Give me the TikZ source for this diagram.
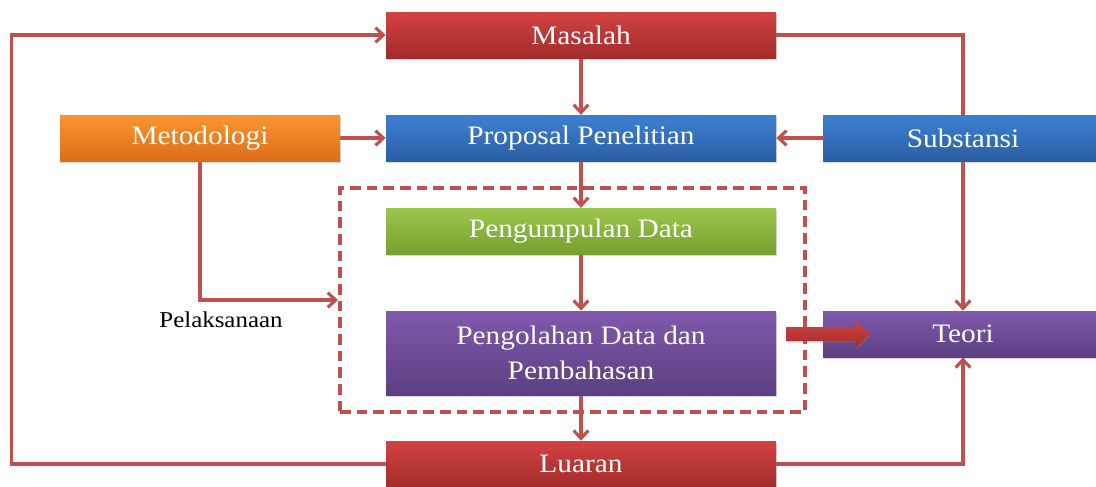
\documentclass[tikz,border=0pt]{standalone}
\usepackage{fontspec}
\setmainfont{Liberation Serif}[FakeStretch=1.1]
\usetikzlibrary{arrows.meta,shadows}
\pgfdeclarelayer{background}
\pgfsetlayers{background,main}

\definecolor{lnred}{HTML}{C0504D}
\definecolor{redtop}{HTML}{D24343}
\definecolor{redbot}{HTML}{A22B2B}
\definecolor{bluetop}{HTML}{3C80D2}
\definecolor{bluebot}{HTML}{2C5EA3}
\definecolor{orgtop}{HTML}{F9952F}
\definecolor{orgbot}{HTML}{DC6E1A}
\definecolor{grntop}{HTML}{9DC64C}
\definecolor{grnbot}{HTML}{759E2F}
\definecolor{purtop}{HTML}{8059AC}
\definecolor{purbot}{HTML}{5D3F82}

\tikzset{
  box/.style={rectangle, inner sep=0pt, text=white, align=center,
    font=\fontsize{20}{26}\selectfont,
    minimum width=292.5pt, minimum height=34.5pt,
    drop shadow={shadow xshift=1pt, shadow yshift=-1.2pt, opacity=0.3}},
  redbox/.style={box, top color=redtop, bottom color=redbot},
  bluebox/.style={box, top color=bluetop, bottom color=bluebot},
  orgbox/.style={box, top color=orgtop, bottom color=orgbot},
  grnbox/.style={box, top color=grntop, bottom color=grnbot},
  purbox/.style={box, top color=purtop, bottom color=purbot},
  conn/.style={draw=lnred, line width=2.3pt,
    -{Straight Barb[length=6pt,width=11pt,line width=2.3pt]}},
  dbox/.style={rectangle, draw=lnred, line width=3pt,
    dash pattern=on 8pt off 4.5pt,
    minimum width=348.75pt, minimum height=168pt, inner sep=0pt}
}

\begin{document}
\begin{tikzpicture}[x=0.75pt,y=-0.75pt]
\useasboundingbox (0,0) rectangle (1096,486);
\clip (0,0) rectangle (1096,486);

% main column
\node[redbox]  (masalah)     at (581,35)    {Masalah};
\node[bluebox, minimum height=35pt] (proposal) at (581,138.5) {Proposal Penelitian};
\node[grnbox, minimum height=35pt] (pengumpulan) at (581,231.5) {Pengumpulan Data};
\node[purbox, minimum height=63pt] (pengolahan) at (581,353)
  {Pengolahan Data dan\\Pembahasan};
\node[redbox]  (luaran)      at (581,464)   {Luaran};

% side boxes
\node[orgbox, minimum width=210pt]  (metodologi) at (200,138) {Metodologi};
\node[bluebox, minimum width=210pt] (substansi)  at (963,138) {Substansi};
\node[purbox, minimum width=210pt]  (teori)      at (963,334) {Teori};

% implementation frame
\node[dbox] (frame) at (572.5,300) {};
\node[font=\fontsize{17}{20}\selectfont, text=black] (pelaksanaan) at (221,320) {Pelaksanaan};

% connectors
\begin{pgfonlayer}{background}
\draw[conn] (masalah) -- (proposal);
\draw[conn] (proposal) -- (pengumpulan);
\draw[conn] (pengumpulan) -- (pengolahan);
\draw[conn] (pengolahan) -- (luaran);
\draw[conn] (metodologi.east) -- (proposal.west |- metodologi.east);
\draw[conn] (substansi.west) -- (proposal.east |- substansi.west);
\draw[conn] (metodologi.south) |- (frame.west);
\draw[conn] (luaran.west) -- ++(-374,0) |- (masalah.west);
\draw[conn] (masalah.east) -| (teori.north);
\draw[conn] (luaran.east) -| (teori.south);
\end{pgfonlayer}

% block arrow from the results to the theory
\shade[top color=redtop, bottom color=redbot,
  drop shadow={shadow xshift=1pt, shadow yshift=-1.2pt, opacity=0.3}]
  (786,327) -- (855,327) -- (855,320) -- (870,334) -- (855,348)
  -- (855,341) -- (786,341) -- cycle;
\end{tikzpicture}
\end{document}
